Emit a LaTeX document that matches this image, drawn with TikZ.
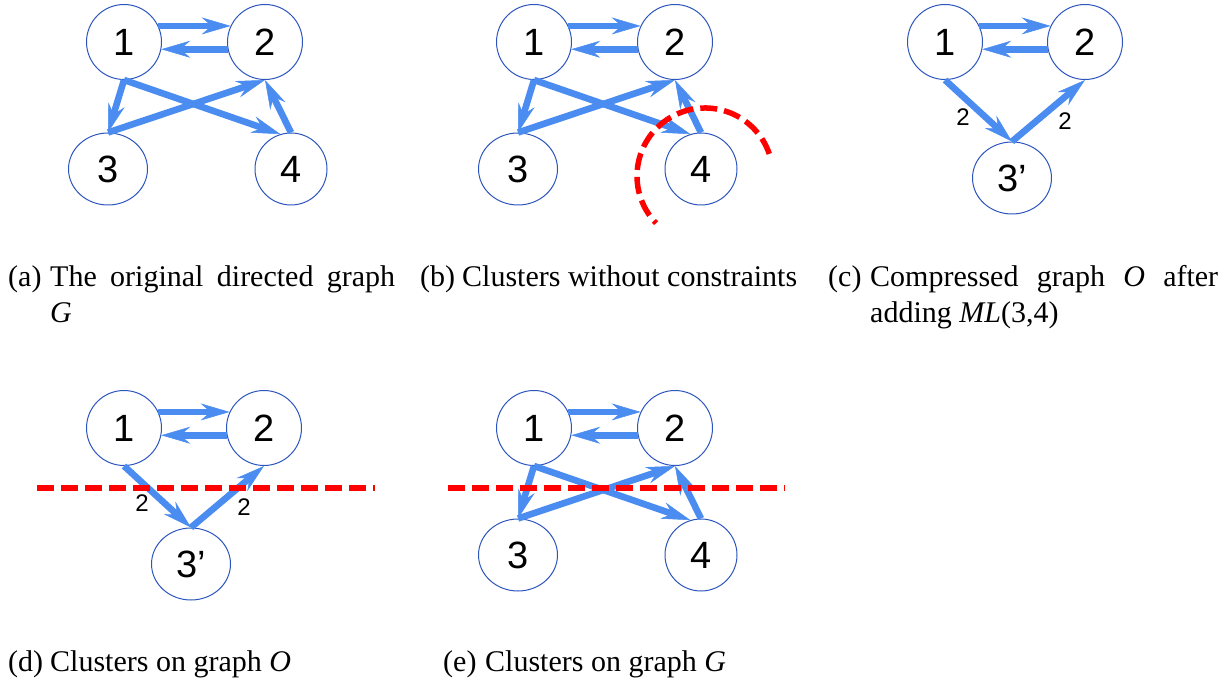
\documentclass[tikz,border=0pt]{standalone}
\usepackage{fontspec}
\setmainfont{Liberation Serif}
\newfontfamily\arialfont{Liberation Sans}
\usetikzlibrary{arrows.meta,shapes.geometric}
\definecolor{edgeblue}{RGB}{74,140,240}
\definecolor{nodeblue}{RGB}{45,85,190}
\definecolor{cutred}{RGB}{255,0,0}
\begin{document}
\begin{tikzpicture}[x=1pt,y=-1pt,
  vertex/.style={circle,draw=nodeblue,line width=1pt,fill=white,minimum size=75pt,inner sep=0pt,font=\arialfont\fontsize{38}{40}\selectfont},
  smallvertex/.style={vertex,minimum size=72pt},
  widevertex/.style={ellipse,draw=nodeblue,line width=1pt,fill=white,minimum width=79pt,minimum height=72pt,inner sep=0pt,font=\arialfont\fontsize{38}{40}\selectfont},
  headtip/.tip={Stealth[length=29pt,width=17pt,inset=10pt,line width=0.5pt]},
  edge/.style={draw=edgeblue,line width=6.6pt,-headtip},
  wlabel/.style={font=\arialfont\fontsize{24}{26}\selectfont,inner sep=0pt},
  cut/.style={draw=cutred,line width=5.5pt,dash pattern=on 17pt off 7pt},
  caplabel/.style={anchor=base west,inner sep=0pt,font=\fontsize{30}{36}\selectfont},
]
\useasboundingbox (0,0) rectangle (1223,684);

% (a) original graph G
\begin{scope}
\node[vertex] (a1) at (124,42) {1};
\node[vertex] (a2) at (265,42) {2};
\node[widevertex] (a3) at (108,169) {3};
\node[smallvertex] (a4) at (291,169) {4};
\draw[edge] (a1.25) -- (a2.155);
\draw[edge] (a2.-169) -- (a1.-11);
\draw[edge] (a1.south) -- (a3.north);
\draw[edge] (a1.south) -- (a4.107);
\draw[edge] (a3.north) -- (a2.south);
\draw[edge] (a4.north) -- (a2.south);
\end{scope}

% (b) clusters without constraints
\begin{scope}[shift={(410,0)}]
\node[vertex] (b1) at (124,42) {1};
\node[vertex] (b2) at (265,42) {2};
\node[widevertex] (b3) at (108,169) {3};
\node[smallvertex] (b4) at (291,169) {4};
\draw[edge] (b1.25) -- (b2.155);
\draw[edge] (b2.-169) -- (b1.-11);
\draw[edge] (b1.south) -- (b3.north);
\draw[edge] (b1.south) -- (b4.107);
\draw[edge] (b3.north) -- (b2.south);
\draw[edge] (b4.north) -- (b2.south);
\end{scope}
\coordinate (barc) at (705,176);
\draw[cut] (barc) ++(-19:68) arc[start angle=-19,end angle=-224,radius=68];

% (c) compressed graph O
\begin{scope}
\node[vertex] (c1) at (945,42) {1};
\node[vertex] (c2) at (1085,42) {2};
\node[widevertex] (c3) at (1012,178) {3’};
\draw[edge] (c1.25) -- (c2.155);
\draw[edge] (c2.-169) -- (c1.-11);
\draw[edge] (c1.south) -- (c3.north);
\draw[edge] (c3.north) -- (c2.south);
\node[wlabel] (cw1) at (963,117) {2};
\node[wlabel] (cw2) at (1065,121) {2};
\end{scope}

% (d) clusters on graph O
\begin{scope}[shift={(-821,386)}]
\node[vertex] (d1) at (945,42) {1};
\node[vertex] (d2) at (1085,42) {2};
\node[widevertex] (d3) at (1012,178) {3’};
\draw[edge] (d1.25) -- (d2.155);
\draw[edge] (d2.-169) -- (d1.-11);
\draw[edge] (d1.south) -- (d3.north);
\draw[edge] (d3.north) -- (d2.south);
\node[wlabel] (dw1) at (963,117) {2};
\node[wlabel] (dw2) at (1065,121) {2};
\end{scope}
\coordinate (dL) at (37,488);
\coordinate (dR) at (375,488);
\draw[cut] (dL) -- (dR);

% (e) clusters on graph G
\begin{scope}[shift={(410,386)}]
\node[vertex] (e1) at (124,42) {1};
\node[vertex] (e2) at (265,42) {2};
\node[widevertex] (e3) at (108,169) {3};
\node[smallvertex] (e4) at (291,169) {4};
\draw[edge] (e1.25) -- (e2.155);
\draw[edge] (e2.-169) -- (e1.-11);
\draw[edge] (e1.south) -- (e3.north);
\draw[edge] (e1.south) -- (e4.107);
\draw[edge] (e3.north) -- (e2.south);
\draw[edge] (e4.north) -- (e2.south);
\end{scope}
\coordinate (eL) at (448,488);
\coordinate (eR) at (785,488);
\draw[cut] (eL) -- (eR);

% captions
\node[caplabel] (capa) at (8,287) {(a)};
\node[caplabel] (capa1) at (50,287) {\makebox[345pt][s]{The original directed graph}};
\node[caplabel] (capa2) at (50,323) {\textit{G}};
\node[caplabel] (capb) at (420,287) {(b)};
\node[caplabel] (capb1) at (462,287) {Clusters without constraints};
\node[caplabel] (capc) at (828,287) {(c)};
\node[caplabel] (capc1) at (870,287) {\makebox[348pt][s]{Compressed graph \textit{O} after}};
\node[caplabel] (capc2) at (870,323) {adding \textit{ML}(3,4)};
\node[caplabel] (capd) at (8,671) {(d)};
\node[caplabel] (capd1) at (50,671) {Clusters on graph \textit{O}};
\node[caplabel] (cape) at (443,671) {(e)};
\node[caplabel] (cape1) at (485,671) {Clusters on graph \textit{G}};
\end{tikzpicture}
\end{document}
